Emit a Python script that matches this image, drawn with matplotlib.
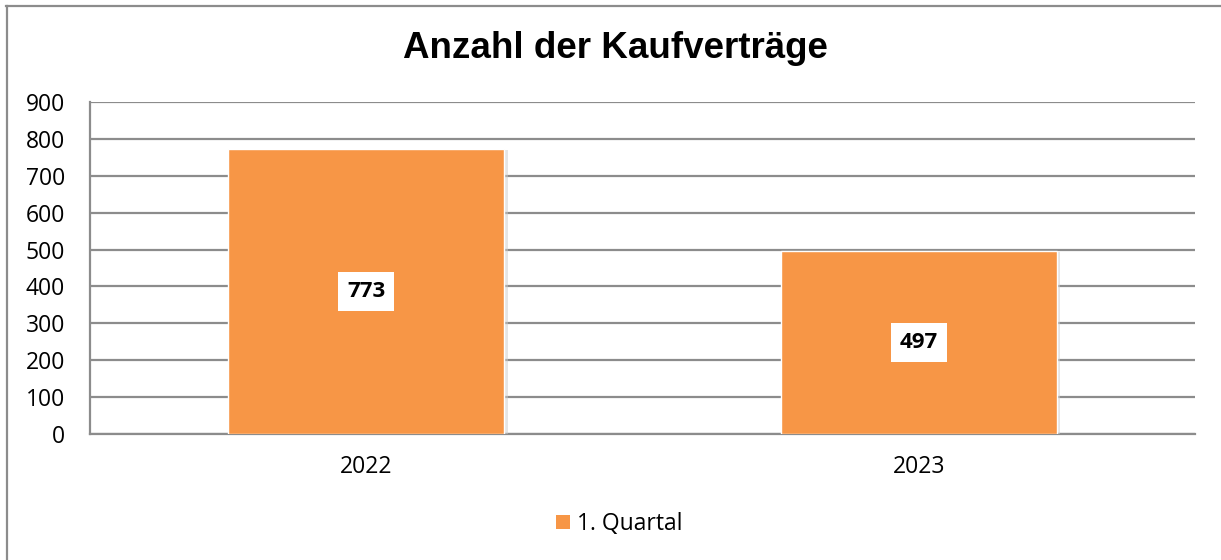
import matplotlib
matplotlib.use("Agg")
import matplotlib.pyplot as plt
from matplotlib.lines import Line2D
from matplotlib.patches import Patch
import matplotlib.patheffects as pe

categories = ["2022", "2023"]
values = [773, 497]
series_name = "1. Quartal"
title = "Anzahl der Kaufverträge"
yticks = [0, 100, 200, 300, 400, 500, 600, 700, 800, 900]

W, H = 1221, 560
fig = plt.figure(figsize=(W / 100, H / 100), dpi=100)
ax = fig.add_axes([90 / W, 1 - 434 / H, (1195 - 90) / W, (434 - 102) / H])

orange = "#F79646"
grid_c = "#8c8c8c"
font = "Open Sans"

x = list(range(len(categories)))
bars = ax.bar(x, values, width=0.5, color=orange, edgecolor="white", linewidth=1.0, zorder=3,
              path_effects=[pe.SimplePatchShadow(offset=(2.5, -1), shadow_rgbFace="#cccccc", alpha=0.5), pe.Normal()])

ax.set_xlim(-0.5, len(categories) - 0.5)
ax.set_ylim(0, 900)
ax.set_yticks(yticks)
ax.set_yticklabels([str(t) for t in yticks], fontsize=16.5, family=font)
ax.set_xticks(x)
ax.set_xticklabels(categories, fontsize=16.5, family=font)
ax.tick_params(axis="both", length=0)
ax.tick_params(axis="y", pad=18)
ax.tick_params(axis="x", pad=15)

ax.grid(axis="y", color=grid_c, linewidth=1.6, zorder=0)
ax.set_axisbelow(True)
for s in ["top", "right"]:
    ax.spines[s].set_visible(False)
for s in ["left", "bottom"]:
    ax.spines[s].set_color(grid_c)
    ax.spines[s].set_linewidth(1.6)

for xi, v in zip(x, values):
    ax.text(xi, v / 2, str(v), ha="center", va="center", fontsize=16, fontweight="bold",
            family=font, color="black", zorder=5,
            bbox=dict(boxstyle="square,pad=0.4", facecolor="white", edgecolor="none"))

fig.text(615 / W, 1 - 49 / H, title, ha="center", va="center", fontsize=26.5,
         fontweight="bold", family="Liberation Sans")

handle = Patch(facecolor=orange, edgecolor="none")
fig.legend([handle], [series_name], loc="center", bbox_to_anchor=(619 / W, 1 - 524 / H),
           frameon=False, prop={"family": font, "size": 16.5}, handlelength=0.6, handleheight=0.6,
           handletextpad=0.3)

# figure border (top and left)
fig.add_artist(Line2D([6 / W, 1], [1 - 5.5 / H, 1 - 5.5 / H], transform=fig.transFigure,
                      color=grid_c, linewidth=1.6))
fig.add_artist(Line2D([6.5 / W, 6.5 / W], [0, 1 - 5.5 / H], transform=fig.transFigure,
                      color=grid_c, linewidth=1.6))

fig.savefig("out.png", dpi=100)
